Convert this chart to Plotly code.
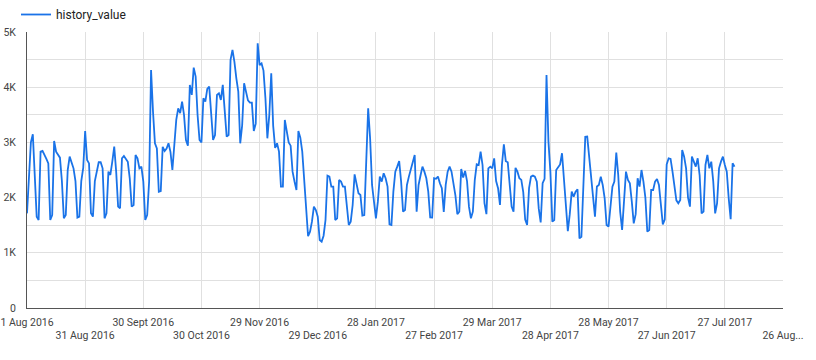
import pandas as pd
import plotly.graph_objects as go

start_date = "2016-08-01"
history_value = [
    1715, 2500, 3000, 3147, 2400, 1655, 1595, 2833, 2845, 2780,
    2700, 2620, 1595, 1685, 3026, 2833, 2780, 2724, 2300, 1625,
    1685, 2500, 2742, 2650, 2530, 2300, 1637, 1655, 2300, 2537,
    3207, 2682, 2620, 1715, 1655, 2300, 2500, 2640, 2640, 2530,
    1625, 1715, 2470, 2410, 2650, 2923, 2470, 1836, 1806, 2712,
    2755, 2700, 2650, 2350, 1836, 1866, 2772, 2712, 2530, 2560,
    2290, 1595, 1685, 2290, 4313, 3560, 2984, 2890, 2108, 2120,
    2920, 2845, 2890, 2984, 2830, 2500, 2890, 3407, 3618, 3530,
    3739, 3497, 3044, 2941, 4041, 3860, 4355, 4192, 3497, 3044,
    3000, 3799, 3740, 3968, 4010, 3600, 3044, 3135, 3860, 3890,
    3770, 4041, 3470, 3105, 3135, 4494, 4675, 4460, 4160, 3920,
    2984, 3310, 4071, 3890, 3760, 3720, 3720, 3207, 3340, 4796,
    4400, 4430, 4300, 3800, 3074, 3500, 4252, 3300, 2900, 2984,
    2833, 2199, 2199, 3407, 3195, 3000, 2941, 2470, 2289, 2138,
    3207, 3086, 2833, 2289, 1866, 1300, 1383, 1564, 1836, 1775,
    1655, 1232, 1202, 1310, 1595, 2398, 2380, 2199, 2199, 1595,
    1625, 2320, 2289, 2199, 2199, 1866, 1504, 1564, 1866, 2422,
    2259, 2078, 2048, 1673, 1685, 2600, 3618, 3074, 2229, 1927,
    1625, 1927, 2380, 2290, 2440, 2350, 2199, 1516, 1504, 2108,
    2470, 2561, 2663, 2290, 1745, 1775, 2229, 2380, 2530, 2651,
    2772, 1745, 2229, 2400, 2561, 2470, 2350, 2108, 1640, 1637,
    2350, 2340, 2380, 2260, 2170, 1740, 2229, 2470, 2561, 2470,
    2229, 2040, 1700, 1745, 2519, 2362, 2483, 2300, 1836, 1625,
    1745, 2320, 2603, 2591, 2833, 2591, 1900, 1700, 2530, 2561,
    2530, 2712, 2300, 2169, 1866, 2590, 2966, 2660, 2640, 2290,
    1836, 1745, 2540, 2470, 2350, 2320, 2100, 1600, 1504, 2170,
    2380, 2398, 2380, 2290, 1800, 1550, 2260, 2340, 4222, 3014,
    2470, 1564, 1595, 2500, 2560, 2600, 2803, 2350, 1866, 1390,
    1700, 2108, 2018, 2108, 2150, 1262, 1290, 2400, 3100, 3105,
    2712, 2350, 1927, 1655, 2200, 2229, 2380, 2229, 1987, 1504,
    1474, 1900, 2199, 2289, 2815, 2410, 1745, 1413, 2000, 2470,
    2320, 2259, 1927, 1534, 1700, 2350, 2199, 2500, 2289, 2000,
    1383, 1413, 2138, 2138, 2289, 2337, 2229, 1900, 1516, 1600,
    2600, 2712, 2700, 2470, 2169, 1950, 1897, 1957, 2863, 2742,
    2530, 2000, 1836, 2742, 2651, 2561, 2712, 2400, 1715, 1745,
    2591, 2772, 2530, 2651, 2300, 1715, 1900, 2530, 2651, 2742,
    2591, 2470, 1987, 1607, 2621, 2561,
]

x_tick_dates = [
    "2016-08-01", "2016-08-31", "2016-09-30", "2016-10-30", "2016-11-29",
    "2016-12-29", "2017-01-28", "2017-02-27", "2017-03-29", "2017-04-28",
    "2017-05-28", "2017-06-27", "2017-07-27", "2017-08-26",
]
x_tick_labels = [
    "1 Aug 2016", "31 Aug 2016", "30 Sept 2016", "30 Oct 2016", "29 Nov 2016",
    "29 Dec 2016", "28 Jan 2017", "27 Feb 2017", "29 Mar 2017", "28 Apr 2017",
    "28 May 2017", "27 Jun 2017", "27 Jul 2017", "26 Aug...",
]
y_tick_values = [0, 1000, 2000, 3000, 4000, 5000]
y_tick_labels = ["0", "1K", "2K", "3K", "4K", "5K"]

dates = pd.date_range(start_date, periods=len(history_value), freq="D")
ticktext = [t if i % 2 == 0 else "<br>" + t for i, t in enumerate(x_tick_labels)]

fig = go.Figure()
fig.add_trace(go.Scatter(
    x=dates, y=history_value, mode="lines", name="history_value",
    line=dict(color="#1a73e8", width=1.8),
))

grid = "#e0e0e0"
fig.update_layout(
    width=816, height=360,
    margin=dict(l=27, r=33, t=32, b=52, autoexpand=False),
    paper_bgcolor="white", plot_bgcolor="white",
    font=dict(family="Roboto", size=10.5, color="#444"),
    showlegend=True,
    legend=dict(
        orientation="h", x=0.0196, y=1.0, xref="container", yref="container",
        xanchor="left", yanchor="top", font=dict(size=12, color="#222"),
        bgcolor="rgba(0,0,0,0)",
    ),
    xaxis=dict(
        range=[x_tick_dates[0], x_tick_dates[-1]],
        tickmode="array", tickvals=x_tick_dates, ticktext=ticktext,
        showgrid=True, gridcolor=grid, gridwidth=1,
        showline=True, linecolor="#555", linewidth=1,
        ticks="outside", ticklen=4, tickcolor="rgba(0,0,0,0)",
        zeroline=False, tickangle=0, automargin=False,
    ),
    yaxis=dict(
        range=[0, 5000],
        tickmode="array", tickvals=y_tick_values, ticktext=y_tick_labels,
        showgrid=True, gridcolor=grid, gridwidth=1,
        minor=dict(dtick=500, showgrid=True, gridcolor=grid, gridwidth=1),
        showline=True, linecolor="#555", linewidth=1,
        ticks="outside", ticklen=8, tickcolor="rgba(0,0,0,0)",
        zeroline=False, automargin=False,
    ),
)

fig.write_html("out.html")
